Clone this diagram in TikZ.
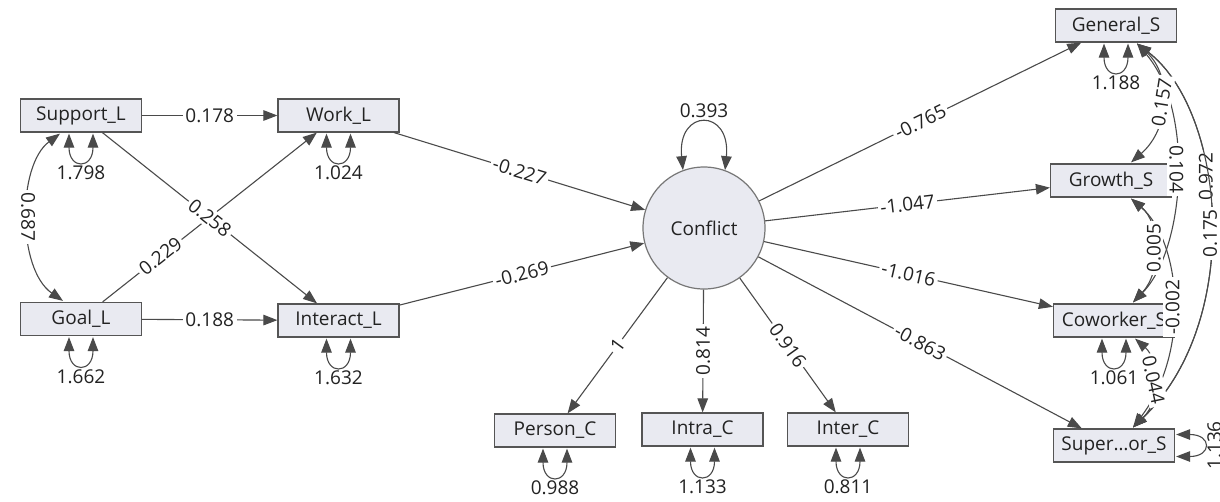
\documentclass[tikz,border=0pt]{standalone}
\usepackage{fontspec}
\setmainfont{Open Sans}
\usetikzlibrary{arrows.meta,calc}
\definecolor{boxfill}{HTML}{E9EAF1}
\definecolor{boxline}{HTML}{555555}
\definecolor{edgecol}{HTML}{4A4A4A}
\definecolor{txt}{HTML}{222222}
\begin{document}
\begin{tikzpicture}[x=1pt,y=-1pt,
  font=\fontsize{19}{22}\selectfont,
  >={Triangle[length=14pt,width=10.5pt]},
  var/.style={draw=boxline, line width=1.2pt, fill=boxfill, minimum width=121pt,
    minimum height=33pt, inner sep=0pt, text=txt},
  lat/.style={circle, draw=boxline!80, line width=1.2pt, fill=boxfill,
    minimum size=122pt, inner sep=0pt, text=txt},
  reg/.style={draw=edgecol, line width=1.1pt, ->},
  cov/.style={draw=edgecol, line width=1.1pt, <->},
  lab/.style={fill=white, inner sep=2.5pt, text=txt},
  vlab/.style={inner sep=0pt, text=txt},
]
\fill[white] (0,0) rectangle (1220,501);
\useasboundingbox (0,0) rectangle (1220,501);

% observed and latent variables
\node[var] (supp)   at (81,115.5)   {Support\_L};
\node[var] (work)   at (338.5,115.5) {Work\_L};
\node[var] (goal)   at (81,319)     {Goal\_L};
\node[var] (inter)  at (338.5,320.5) {Interact\_L};
\node[lat] (conf)   at (704,228)    {Conflict};
\node[var] (gen)    at (1116,25.5)  {General\_S};
\node[var] (grow)   at (1111,180.5) {Growth\_S};
\node[var] (cow)    at (1114,320.5) {Coworker\_S};
\node[var] (sup)    at (1114,445.5) {Super…or\_S};
\node[var] (pers)   at (555,430.5)  {Person\_C};
\node[var] (intra)  at (702.5,429.5) {Intra\_C};
\node[var] (interc) at (848,429.5)  {Inter\_C};

% regression paths
\draw[reg] (supp) -- node[lab]{0.178} (work);
\draw[reg] (goal) -- node[lab]{0.188} (inter);
\draw[reg] (goal) -- node[lab,sloped,pos=.27]{0.229} (work);
\draw[reg] (supp) -- node[lab,sloped]{0.258} (inter);
\draw[reg] (work) -- node[lab,sloped]{-0.227} (conf);
\draw[reg] (inter) -- node[lab,sloped]{-0.269} (conf);
\draw[reg] (conf) -- node[lab,sloped]{-0.765} (gen);
\draw[reg] (conf) -- node[lab,sloped]{-1.047} (grow);
\draw[reg] (conf) -- node[lab,sloped]{-1.016} (cow);
\draw[reg] (conf) -- node[lab,sloped]{-0.863} (sup);
\draw[reg] (conf) -- node[lab,sloped]{1} (pers);
\draw[reg] (conf) -- node[lab,rotate=90]{0.814} (intra);
\draw[reg] (conf) -- node[lab,sloped]{0.916} (interc);

% residual variances
\foreach \n/\v in {supp/1.798, work/1.024, goal/1.662, inter/1.632, pers/0.988,
                   intra/1.133, interc/0.811, gen/1.188, cow/1.061}
  \draw[cov] ($(\n.south)+(-12,1)$) .. controls +(0,36) and +(0,36) ..
    node[vlab, below=5pt]{\v} ($(\n.south)+(12,1)$);
\draw[cov] (conf.110) .. controls +(-6,-62) and +(6,-62) ..
  node[vlab, above=5pt]{0.393} (conf.70);
\draw[cov] ($(sup.east)+(1,-11)$) .. controls +(36,0) and +(36,0) .. ($(sup.east)+(1,11)$);
\node[vlab, rotate=90, anchor=north] (supvar) at ($(sup.east)+(32,0)$) {1.136};

% covariances among the exogenous indicators
\draw[cov] ($(supp.south)+(-21,1)$) .. controls +(-43,32) and +(-46,-32) ..
  node[lab, rotate=-90]{0.687} ($(goal.north)+(-18,-1)$);

% covariances among the satisfaction indicators
\draw[cov] ($(gen.south)+(21,1)$) .. controls +(88,67) and +(112,-108) ..
  node[lab, pos=.4, rotate=90]{0.972} ($(sup.north)+(19,-1)$);
\draw[cov] ($(gen.south)+(21,1)$) .. controls +(88,67) and +(112,-108) ..
  node[lab, pos=.53, rotate=90]{0.175} ($(sup.north)+(19,-1)$);
\draw[cov] ($(gen.south)+(21,1)$) .. controls +(58,67) and +(52,-53) ..
  node[lab, pos=.47, rotate=-90]{0.104} ($(cow.north)+(19,-1)$);
\draw[cov] ($(grow.south)+(20,1)$) .. controls +(49,42) and +(59,-78) ..
  node[lab, pos=.53, rotate=90]{-0.002} ($(sup.north)+(19,-1)$);
\draw[cov] ($(grow.south)+(20,1)$) .. controls +(29,24) and +(29,-31) ..
  node[lab, rotate=90]{0.005} ($(cow.north)+(19,-1)$);
\draw[cov] ($(cow.south)+(21,1)$) .. controls +(23,20) and +(29,-28) ..
  node[lab, rotate=-78]{0.044} ($(sup.north)+(19,-1)$);
\draw[cov] ($(gen.south)+(21,1)$) .. controls +(35,32) and +(39,-34) ..
  node[lab, rotate=81]{0.157} ($(grow.north)+(20,-1)$);
\end{tikzpicture}
\end{document}
